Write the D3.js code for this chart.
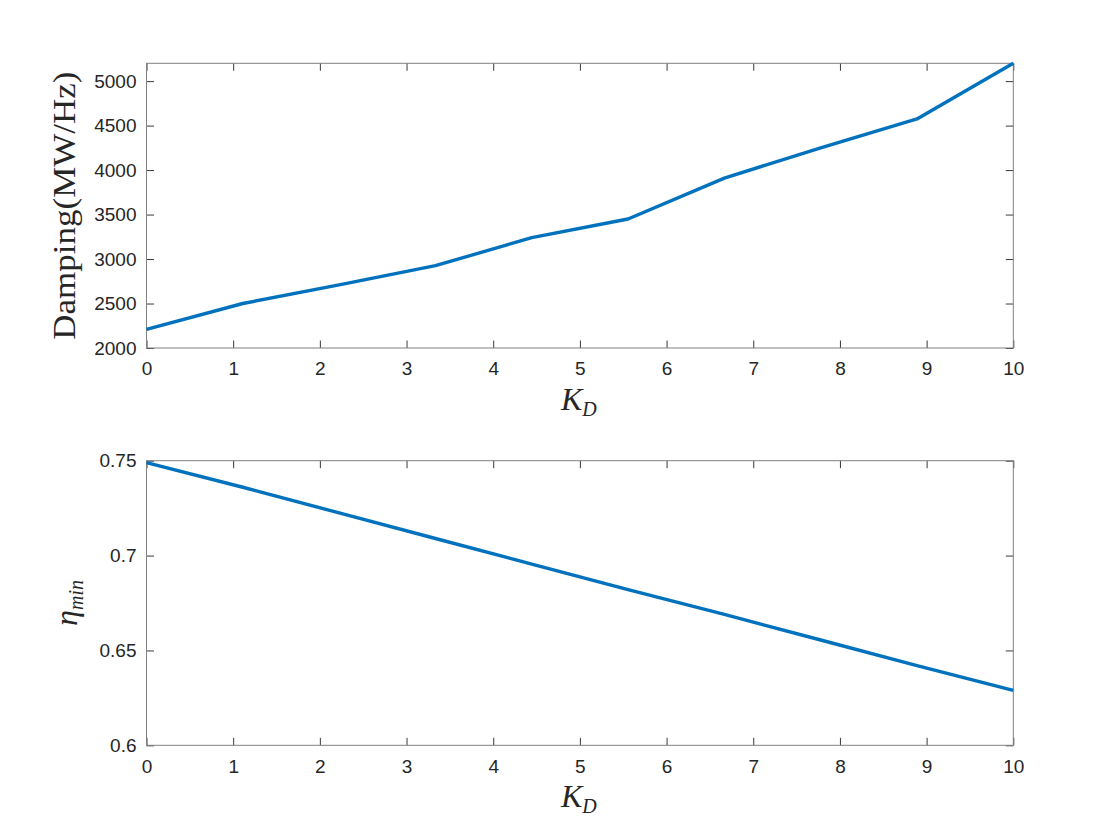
<!DOCTYPE html>
<html>
<head>
<meta charset="utf-8">
<script src="https://cdn.jsdelivr.net/npm/d3@7"></script>
<style>
  html, body { margin: 0; padding: 0; background: #fff; }
  svg { display: block; }
</style>
</head>
<body>
<svg id="chart" width="1120" height="840"></svg>
<script>
// ---- data ----
const kd = [0, 1.1111, 2.2222, 3.3333, 4.4444, 5.5556, 6.6667, 7.7778, 8.8889, 10];
const damping = [2210, 2500, 2710, 2925, 3240, 3450, 3910, 4250, 4575, 5200];
const etaMin = [0.749, 0.736, 0.7225, 0.709, 0.6955, 0.682, 0.669, 0.6555, 0.642, 0.629];
const xTicks = [0, 1, 2, 3, 4, 5, 6, 7, 8, 9, 10];
const dampTicks = [2000, 2500, 3000, 3500, 4000, 4500, 5000];
const etaTicks = [0.6, 0.65, 0.7, 0.75];
const etaTickLabels = ["0.6", "0.65", "0.7", "0.75"];

const svg = d3.select("#chart");
const tickFont = "Helvetica, Arial, 'Liberation Sans', sans-serif";
const serif = "'Liberation Serif', 'Times New Roman', 'DejaVu Serif', serif";
const lineColor = "#0072BD";
const L = 146.5, R = 1013.3;
const tickLen = 7.5;

function panel(top, bottom, yDomain, yTicks, yFmt, values) {
  const x = d3.scaleLinear().domain([0, 10]).range([L, R]);
  const y = d3.scaleLinear().domain(yDomain).range([bottom, top]);
  const g = svg.append("g");

  const ax = g.append("g").attr("transform", `translate(0,${bottom})`)
    .call(d3.axisBottom(x).tickValues(xTicks).tickSizeInner(-tickLen).tickSizeOuter(0).tickPadding(14));
  const axt = g.append("g").attr("transform", `translate(0,${top})`)
    .call(d3.axisTop(x).tickValues(xTicks).tickSizeInner(-tickLen).tickSizeOuter(0).tickFormat(""));
  const ay = g.append("g").attr("transform", `translate(${L},0)`)
    .call(d3.axisLeft(y).tickValues(yTicks).tickSizeInner(-tickLen).tickSizeOuter(0).tickPadding(10).tickFormat(yFmt));
  const ayr = g.append("g").attr("transform", `translate(${R},0)`)
    .call(d3.axisRight(y).tickValues(yTicks).tickSizeInner(-tickLen).tickSizeOuter(0).tickFormat(""));

  [ax, axt, ay, ayr].forEach(a => {
    a.select(".domain").remove();
    a.selectAll(".tick line").attr("stroke", "#3a3a3a").attr("stroke-width", 1);
    a.selectAll(".tick text").attr("fill", "#262626").attr("font-family", tickFont).attr("font-size", "19px");
  });

  g.append("rect").attr("x", L).attr("y", top).attr("width", R - L).attr("height", bottom - top)
    .attr("fill", "none").attr("stroke", "#808080").attr("stroke-width", 1);

  const line = d3.line().x((d, i) => x(kd[i])).y(d => y(d));
  g.append("path").datum(values).attr("d", line)
    .attr("fill", "none").attr("stroke", lineColor).attr("stroke-width", 3.4)
    .attr("stroke-linejoin", "round").attr("stroke-linecap", "butt");

  const xl = g.append("text").attr("x", (L + R) / 2 - 1).attr("y", bottom + 62)
    .attr("text-anchor", "middle").attr("font-family", serif).attr("fill", "#262626")
    .attr("font-style", "italic").attr("font-size", "32px");
  xl.append("tspan").text("K");
  xl.append("tspan").attr("font-size", "20px").attr("dy", 6).text("D");
  return g;
}

panel(63.3, 348, [2000, 5200], dampTicks, d => String(d), damping);
panel(460.7, 745.3, [0.6, 0.75], etaTicks, (d, i) => etaTickLabels[i], etaMin);

svg.append("text")
  .attr("transform", `translate(75,${(63.3 + 348) / 2}) rotate(-90)`)
  .attr("text-anchor", "middle").attr("font-family", serif).attr("fill", "#262626")
  .attr("font-size", "32px").attr("textLength", 268).attr("lengthAdjust", "spacingAndGlyphs")
  .text("Damping(MW/Hz)");

const yl2 = svg.append("text")
  .attr("transform", `translate(77,${(460.7 + 745.3) / 2}) rotate(-90)`)
  .attr("text-anchor", "middle").attr("font-family", serif).attr("fill", "#262626")
  .attr("font-style", "italic").attr("font-size", "32px");
yl2.append("tspan").text("η");
yl2.append("tspan").attr("font-size", "20px").attr("dy", 6).text("min");
</script>
</body>
</html>
